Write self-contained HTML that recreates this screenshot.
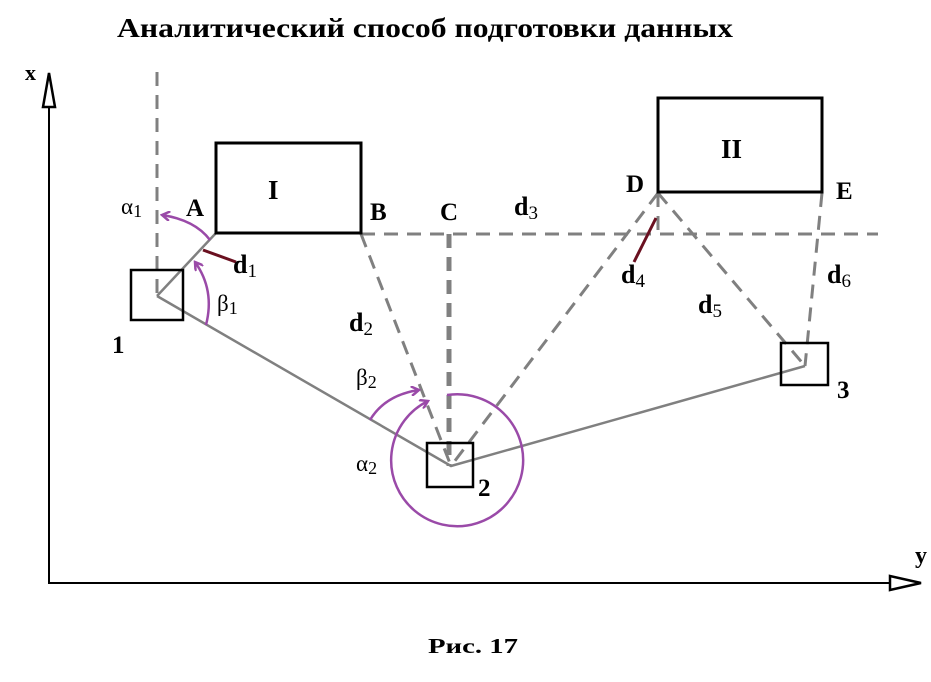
<!DOCTYPE html>
<html><head><meta charset="utf-8"><style>
html,body{margin:0;padding:0;background:#fff;width:931px;height:682px;overflow:hidden}
svg text{font-family:"Liberation Serif",serif;fill:#000}
.b{font-weight:bold}
</style></head><body>
<svg width="931" height="682" viewBox="0 0 931 682" xmlns="http://www.w3.org/2000/svg">
<defs>
<marker id="pa" markerWidth="10" markerHeight="10" refX="8" refY="5" orient="auto" markerUnits="userSpaceOnUse">
<path d="M0,0 L8,5 L0,10" fill="none" stroke="#9a4aa8" stroke-width="2.5"/></marker>
</defs>
<text x="117" y="37" class="b" font-size="27" textLength="616" lengthAdjust="spacingAndGlyphs">Аналитический способ подготовки данных</text>
<text x="428" y="653" class="b" font-size="21" textLength="90" lengthAdjust="spacingAndGlyphs">Рис. 17</text>
<!-- axes -->
<line x1="49" y1="105" x2="49" y2="584" stroke="#000" stroke-width="2"/>
<polygon points="49,73 43,107 55,107" fill="#fff" stroke="#000" stroke-width="2.5"/>
<line x1="48" y1="583" x2="890" y2="583" stroke="#000" stroke-width="2"/>
<polygon points="921,583 890,576 890,590" fill="#fff" stroke="#000" stroke-width="2.5"/>
<text x="25" y="80" class="b" font-size="22">x</text>
<text x="915" y="563" class="b" font-size="24">y</text>
<!-- dashed -->
<g stroke="#808080" stroke-width="3" fill="none" stroke-dasharray="14,9">
<line x1="157" y1="72" x2="157" y2="296"/>
<line x1="361" y1="234" x2="878" y2="234"/>
<line x1="361" y1="234" x2="451" y2="466"/>
<line x1="658" y1="193" x2="451" y2="466"/>
<line x1="658" y1="193" x2="805" y2="366"/>
<line x1="822" y1="193" x2="805" y2="366"/>
<line x1="658" y1="193" x2="658" y2="234"/>
<line x1="449" y1="234" x2="449" y2="466" stroke-width="5"/>
</g>
<!-- solid gray -->
<g stroke="#808080" stroke-width="2.5" fill="none">
<line x1="157" y1="296" x2="216" y2="233"/>
<polyline points="157,296 451,466 805,366"/>
</g>
<!-- boxes -->
<g fill="none" stroke="#000" stroke-width="3">
<rect x="216" y="143" width="145" height="90"/>
<rect x="658" y="98" width="164" height="94"/>
<rect x="131" y="270" width="52" height="50" stroke-width="2.5"/>
<rect x="427" y="443" width="46" height="44" stroke-width="2.5"/>
<rect x="781" y="343" width="47" height="42" stroke-width="2.5"/>
</g>
<!-- d lines -->
<line x1="203" y1="250" x2="236" y2="262" stroke="#6a1020" stroke-width="3"/>
<line x1="656" y1="218" x2="634" y2="262" stroke="#6a1020" stroke-width="3"/>
<!-- arcs -->
<g stroke="#9a4aa8" stroke-width="2.5" fill="none">
<path d="M210,240 Q195,220 162,215" marker-end="url(#pa)"/>
<path d="M206,325 Q215,290 195,262" marker-end="url(#pa)"/>
<path d="M370,420 Q385,395 419,390" marker-end="url(#pa)"/>
<path d="M447,395 A66,66 0 1 1 428,401" marker-end="url(#pa)"/>
</g>
<!-- labels -->
<g class="b">
<text x="268" y="199" font-size="27">I</text>
<text x="721" y="158" font-size="27">II</text>
<text x="186" y="216" font-size="25">A</text>
<text x="370" y="220" font-size="25">B</text>
<text x="440" y="220" font-size="25">C</text>
<text x="626" y="192" font-size="25">D</text>
<text x="836" y="199" font-size="25">E</text>
<text x="112" y="353" font-size="25">1</text>
<text x="478" y="496" font-size="25">2</text>
<text x="837" y="398" font-size="25">3</text>
<text x="233" y="273" font-size="26">d<tspan font-size="19" font-weight="normal" dy="4">1</tspan></text>
<text x="349" y="331" font-size="26">d<tspan font-size="19" font-weight="normal" dy="4">2</tspan></text>
<text x="514" y="215" font-size="26">d<tspan font-size="19" font-weight="normal" dy="4">3</tspan></text>
<text x="621" y="283" font-size="26">d<tspan font-size="19" font-weight="normal" dy="4">4</tspan></text>
<text x="698" y="313" font-size="26">d<tspan font-size="19" font-weight="normal" dy="4">5</tspan></text>
<text x="827" y="283" font-size="26">d<tspan font-size="19" font-weight="normal" dy="4">6</tspan></text>
</g>
<text x="121" y="214" font-size="23">α<tspan font-size="18" dy="3">1</tspan></text>
<text x="217" y="311" font-size="23">β<tspan font-size="18" dy="3">1</tspan></text>
<text x="356" y="385" font-size="23">β<tspan font-size="18" dy="3">2</tspan></text>
<text x="356" y="471" font-size="23">α<tspan font-size="18" dy="3">2</tspan></text>
</svg>
</body></html>
